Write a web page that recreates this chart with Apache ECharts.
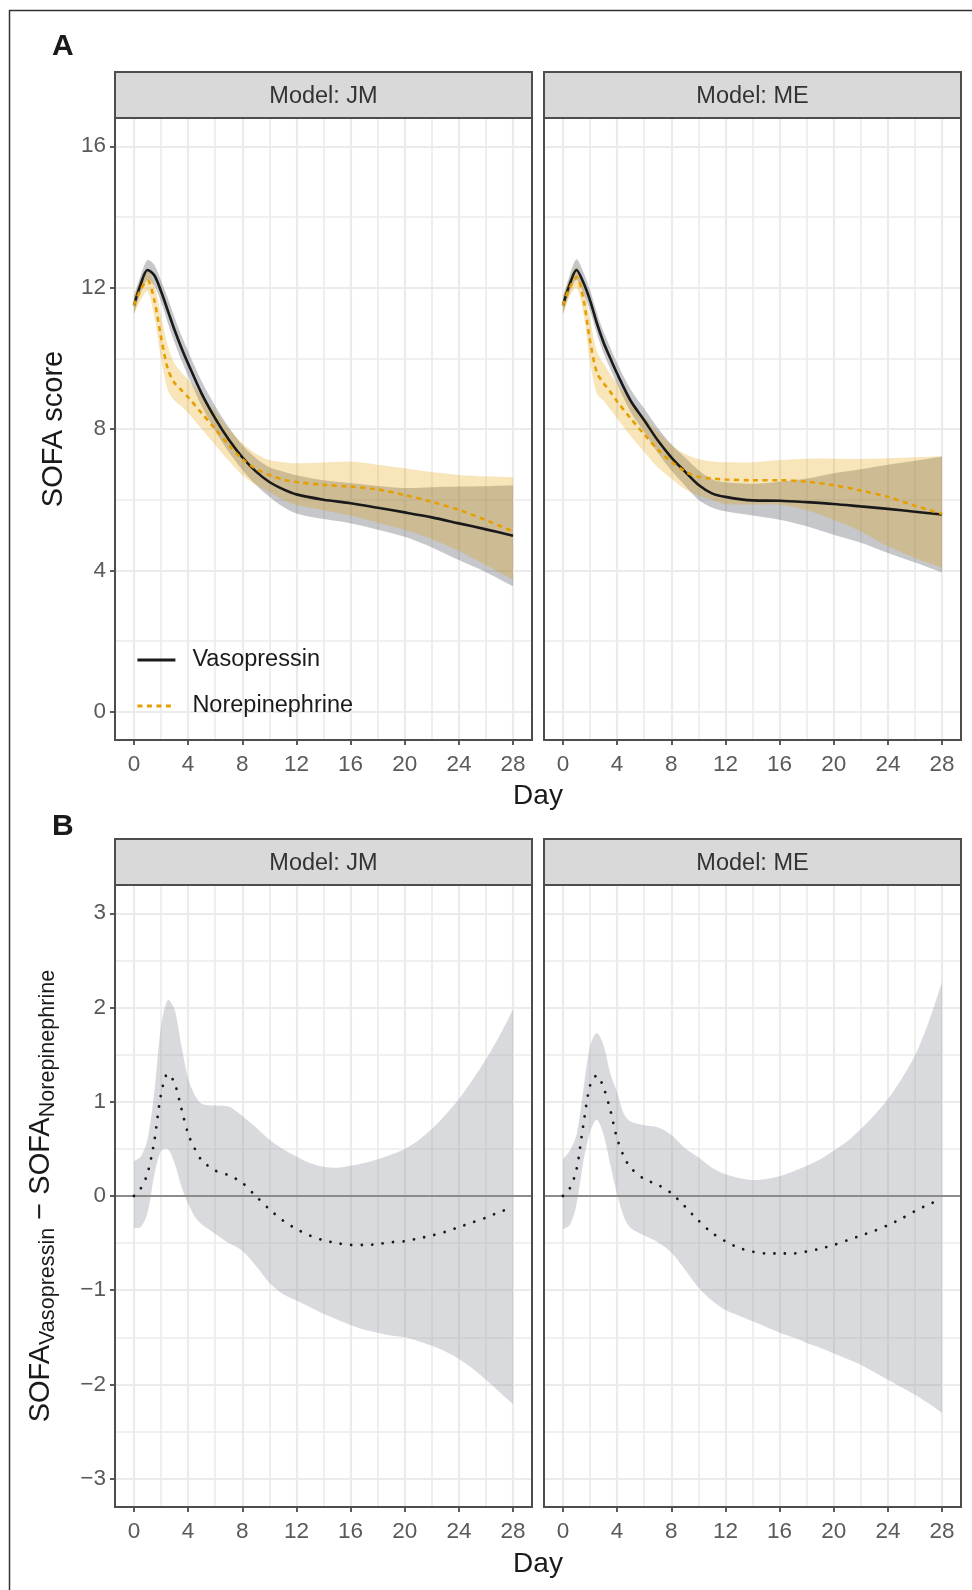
<!DOCTYPE html>
<html><head><meta charset="utf-8">
<script src="https://cdn.jsdelivr.net/npm/echarts@6/dist/echarts.min.js"></script>
<style>html,body{margin:0;padding:0;background:#fff}#c{width:972px;height:1590px}</style>
</head><body><div id="c"></div>
<script>
// ---------- DATA ----------
const xTicks = [0, 4, 8, 12, 16, 20, 24, 28];
const xMinor = [2, 6, 10, 14, 18, 22, 26];
const yTicksA = [0, 4, 8, 12, 16];
const yMinorA = [2, 6, 10, 14];
const yTicksB = [-3, -2, -1, 0, 1, 2, 3];
const yMinorB = [-2.5, -1.5, -0.5, 0.5, 1.5, 2.5];
const panelNames = ['Model: JM', 'Model: ME'];

// Panel A days
const daysA = [0,0.5,1,1.5,2,2.5,3,3.5,4,5,6,7,8,9,10,11,12,14,16,18,20,22,24,26,28];
// Model JM
const jmVasoMean = [11.5,12.1,12.5,12.35,11.9,11.35,10.8,10.3,9.85,9.0,8.3,7.7,7.2,6.8,6.5,6.3,6.15,6.0,5.9,5.77,5.64,5.5,5.33,5.16,4.98];
const jmVasoLo   = [11.25,11.85,12.22,12.05,11.6,11.0,10.45,9.95,9.5,8.65,7.95,7.35,6.85,6.42,6.08,5.8,5.61,5.45,5.33,5.15,4.95,4.65,4.29,3.95,3.55];
const jmVasoHi   = [11.75,12.35,12.78,12.65,12.2,11.7,11.15,10.65,10.2,9.35,8.65,8.05,7.55,7.18,6.92,6.8,6.69,6.55,6.47,6.39,6.33,6.35,6.37,6.38,6.41];
const jmNoreMean = [11.5,11.95,12.2,11.65,10.6,9.7,9.3,9.1,8.9,8.45,8.0,7.55,7.15,6.88,6.7,6.57,6.5,6.42,6.37,6.29,6.13,5.94,5.71,5.42,5.1];
const jmNoreLo   = [11.25,11.65,11.9,11.2,10.0,9.1,8.8,8.65,8.45,8.0,7.55,7.1,6.7,6.42,6.22,6.0,5.85,5.7,5.55,5.35,5.15,4.88,4.55,4.15,3.73];
const jmNoreHi   = [11.75,12.25,12.5,12.1,11.2,10.35,9.85,9.6,9.4,8.95,8.5,8.0,7.6,7.3,7.12,7.06,7.03,7.05,7.08,6.99,6.89,6.78,6.7,6.66,6.63];
// Model ME
const meVasoMean = [11.5,12.1,12.5,12.15,11.64,11.0,10.45,10.0,9.57,8.8,8.25,7.68,7.2,6.8,6.42,6.18,6.08,5.98,5.97,5.93,5.88,5.81,5.74,5.66,5.58];
const meVasoLo   = [11.25,11.85,12.22,11.85,11.35,10.7,10.15,9.7,9.27,8.48,7.92,7.33,6.83,6.4,6.0,5.78,5.67,5.55,5.43,5.25,5.01,4.78,4.49,4.22,3.94];
const meVasoHi   = [11.75,12.35,12.8,12.45,11.93,11.3,10.75,10.3,9.87,9.12,8.58,8.03,7.57,7.2,6.84,6.58,6.49,6.45,6.51,6.6,6.75,6.86,6.99,7.1,7.22];
const meNoreMean = [11.5,12.0,12.3,11.7,10.5,9.6,9.3,9.05,8.78,8.3,7.85,7.42,7.08,6.8,6.65,6.6,6.57,6.55,6.55,6.51,6.41,6.26,6.08,5.83,5.6];
const meNoreLo   = [11.25,11.75,12.0,11.3,9.9,9.0,8.8,8.55,8.3,7.8,7.35,6.92,6.6,6.3,6.12,6.0,5.88,5.86,5.86,5.7,5.43,5.1,4.68,4.35,4.07];
const meNoreHi   = [11.75,12.25,12.6,12.1,11.1,10.2,9.85,9.55,9.3,8.8,8.35,7.92,7.55,7.3,7.15,7.08,7.06,7.06,7.12,7.16,7.16,7.15,7.17,7.2,7.23];

// Panel B days (difference Vasopressin - Norepinephrine)
const daysB = [0,0.5,1,1.5,2,2.5,3,3.5,4,4.5,5,6,7,8,9,10,11,12,13,14,15,16,17,18,19,20,21,22,23,24,25,26,27,28];
const jmDiffMean = [0.0,0.08,0.24,0.58,1.08,1.3,1.2,0.93,0.66,0.5,0.38,0.27,0.22,0.14,0.0,-0.14,-0.26,-0.35,-0.42,-0.47,-0.5,-0.52,-0.52,-0.51,-0.49,-0.48,-0.45,-0.42,-0.38,-0.33,-0.28,-0.23,-0.17,-0.12];
const jmDiffLo   = [-0.34,-0.33,-0.18,0.22,0.48,0.5,0.35,0.1,-0.08,-0.22,-0.3,-0.4,-0.5,-0.58,-0.74,-0.92,-1.04,-1.11,-1.18,-1.25,-1.31,-1.37,-1.42,-1.45,-1.48,-1.5,-1.54,-1.59,-1.65,-1.73,-1.83,-1.95,-2.08,-2.21];
const jmDiffHi   = [0.37,0.42,0.6,1.1,1.8,2.08,1.98,1.6,1.25,1.07,0.98,0.96,0.95,0.85,0.73,0.6,0.5,0.42,0.35,0.31,0.3,0.32,0.35,0.39,0.44,0.5,0.59,0.71,0.86,1.03,1.23,1.45,1.7,1.98];
const meDiffMean = [0.0,0.08,0.28,0.75,1.17,1.28,1.15,0.91,0.61,0.42,0.3,0.18,0.12,0.03,-0.11,-0.26,-0.39,-0.48,-0.55,-0.59,-0.61,-0.61,-0.61,-0.59,-0.56,-0.52,-0.47,-0.42,-0.37,-0.31,-0.24,-0.16,-0.09,-0.03];
const meDiffLo   = [-0.35,-0.31,-0.09,0.36,0.68,0.81,0.65,0.33,0.02,-0.22,-0.34,-0.42,-0.49,-0.6,-0.78,-0.97,-1.11,-1.21,-1.27,-1.33,-1.39,-1.45,-1.5,-1.56,-1.61,-1.67,-1.73,-1.79,-1.87,-1.95,-2.03,-2.11,-2.2,-2.3];
const meDiffHi   = [0.39,0.48,0.65,1.12,1.59,1.73,1.6,1.3,1.1,0.87,0.79,0.75,0.73,0.65,0.51,0.41,0.3,0.23,0.19,0.17,0.18,0.21,0.26,0.32,0.39,0.48,0.58,0.71,0.86,1.03,1.24,1.49,1.84,2.27];

// ---------- LAYOUT / STYLE ----------
const FONT = '"Liberation Sans", Arial, Helvetica, sans-serif';
const PL = [115, 544], PW = 417;
const AT = 118, AH = 622, BT = 885, BH = 622, SH = 46;
const C_VASO = '#1a1a1a', C_NORE = '#E69F00';
const F_VASO = 'rgba(80,85,95,0.33)', F_NORE = 'rgba(230,159,0,0.27)', F_DIFF = 'rgba(155,158,165,0.38)';
const GRID_C = '#ebebeb';
const minusFmt = v => (v < 0 ? '\u2212' + Math.abs(v) : String(v));

const grids = [], xAxes = [], yAxes = [], series = [];
const panels = [
  {top: AT, h: AH, col: 0, yMin: -0.8, yMax: 16.8, yT: yTicksA, yM: yMinorA},
  {top: AT, h: AH, col: 1, yMin: -0.8, yMax: 16.8, yT: yTicksA, yM: yMinorA},
  {top: BT, h: BH, col: 0, yMin: -3.3, yMax: 3.3, yT: yTicksB, yM: yMinorB},
  {top: BT, h: BH, col: 1, yMin: -3.3, yMax: 3.3, yT: yTicksB, yM: yMinorB}
];
const labelStyle = {fontSize: 22.5, color: '#5a5a5a', fontFamily: FONT};
panels.forEach((p, i) => {
  grids.push({left: PL[p.col], top: p.top, width: PW, height: p.h, containLabel: false, outerBoundsMode: 'none', show: false});
  xAxes.push({
    type: 'value', gridIndex: i, min: -1.4, max: 29.4,
    axisLine: {show: false, onZero: false},
    axisTick: {show: true, customValues: xTicks, length: 5, lineStyle: {color: '#333', width: 1.6}},
    axisLabel: Object.assign({show: true, customValues: xTicks, margin: 13}, labelStyle),
    splitLine: {show: false}, minorSplitLine: {show: false}
  });
  const showY = p.col === 0;
  yAxes.push({
    type: 'value', gridIndex: i, min: p.yMin, max: p.yMax,
    axisLine: {show: false, onZero: false},
    axisTick: {show: showY, customValues: p.yT, length: 5, lineStyle: {color: '#333', width: 1.6}},
    axisLabel: Object.assign({show: showY, customValues: p.yT, margin: 9, formatter: minusFmt}, labelStyle),
    splitLine: {show: false}
  });
  // gridlines
  const ml = [];
  xTicks.forEach(v => ml.push({xAxis: v, lineStyle: {width: 2.2}}));
  xMinor.forEach(v => ml.push({xAxis: v, lineStyle: {width: 1.6}}));
  p.yT.forEach(v => ml.push({yAxis: v, lineStyle: {width: 2.2}}));
  p.yM.forEach(v => ml.push({yAxis: v, lineStyle: {width: 1.6}}));
  series.push({
    type: 'line', name: 'grid' + i, xAxisIndex: i, yAxisIndex: i, data: [], z: 1, silent: true,
    markLine: {z: 1, silent: true, symbol: ['none', 'none'], label: {show: false}, animation: false,
      lineStyle: {color: GRID_C, type: 'solid'}, emphasis: {disabled: true}, data: ml}
  });
});

function band(gi, days, lo, hi, fill, z) {
  return {
    type: 'custom', xAxisIndex: gi, yAxisIndex: gi, z: z, silent: true,
    data: [[days[0], lo[0]]],
    renderItem: (params, api) => {
      const n = days.length, pts = [];
      // corner vertices are doubled so the smoothed outline keeps straight end caps
      pts.push(api.coord([days[0], hi[0]]));
      for (let i = 0; i < n; i++) pts.push(api.coord([days[i], hi[i]]));
      pts.push(api.coord([days[n - 1], hi[n - 1]]));
      pts.push(api.coord([days[n - 1], lo[n - 1]]));
      for (let i = n - 1; i >= 0; i--) pts.push(api.coord([days[i], lo[i]]));
      pts.push(api.coord([days[0], lo[0]]));
      return {type: 'polygon', shape: {points: pts, smooth: 0.3}, style: {fill: fill}};
    }
  };
}
function line(gi, name, days, vals, ls, extra) {
  return Object.assign({
    type: 'line', name: name, xAxisIndex: gi, yAxisIndex: gi, z: 5, silent: true,
    data: days.map((d, i) => [d, vals[i]]),
    symbol: 'none', showSymbol: false, smooth: 0.3,
    lineStyle: ls, itemStyle: {color: ls.color}
  }, extra || {});
}
const vasoLS = {color: C_VASO, width: 2.6, type: 'solid'};
const noreLS = {color: C_NORE, width: 2.6, type: [5, 4.5]};

series.push(band(0, daysA, jmVasoLo, jmVasoHi, F_VASO, 2));
series.push(band(0, daysA, jmNoreLo, jmNoreHi, F_NORE, 3));
series.push(line(0, 'Vasopressin', daysA, jmVasoMean, vasoLS));
series.push(line(0, 'Norepinephrine', daysA, jmNoreMean, noreLS, {z: 6}));
series.push(band(1, daysA, meVasoLo, meVasoHi, F_VASO, 2));
series.push(band(1, daysA, meNoreLo, meNoreHi, F_NORE, 3));
series.push(line(1, 'Vasopressin', daysA, meVasoMean, vasoLS));
series.push(line(1, 'Norepinephrine', daysA, meNoreMean, noreLS, {z: 6}));

const diffLS = {color: '#1a1a1a', width: 2.8, type: [0.01, 10.5], cap: 'round'};
const zeroML = {z: 4, silent: true, symbol: ['none', 'none'], label: {show: false}, animation: false,
  lineStyle: {color: '#8c8c8c', width: 2, type: 'solid'}, data: [{yAxis: 0}]};
series.push(band(2, daysB, jmDiffLo, jmDiffHi, F_DIFF, 2));
series.push(line(2, 'Difference', daysB, jmDiffMean, diffLS, {markLine: zeroML}));
series.push(band(3, daysB, meDiffLo, meDiffHi, F_DIFF, 2));
series.push(line(3, 'Difference', daysB, meDiffMean, diffLS, {markLine: zeroML}));

// ---------- GRAPHIC (frames, strips, titles) ----------
const graphic = [];
graphic.push({type: 'line', shape: {x1: 9, y1: 10.5, x2: 972, y2: 10.5}, style: {stroke: '#333', lineWidth: 1.5}, z: 100});
graphic.push({type: 'line', shape: {x1: 9.5, y1: 10, x2: 9.5, y2: 1590}, style: {stroke: '#333', lineWidth: 1.5}, z: 100});
graphic.push({type: 'text', x: 52, y: 47, style: {text: 'A', font: 'bold 30px ' + FONT, fill: '#1a1a1a', align: 'left', verticalAlign: 'middle'}, z: 100});
graphic.push({type: 'text', x: 52, y: 827, style: {text: 'B', font: 'bold 30px ' + FONT, fill: '#1a1a1a', align: 'left', verticalAlign: 'middle'}, z: 100});
panels.forEach((p, i) => {
  const x = PL[p.col];
  graphic.push({type: 'rect', shape: {x: x, y: p.top - SH, width: PW, height: SH},
    style: {fill: '#d9d9d9', stroke: '#4d4d4d', lineWidth: 2}, z: 100});
  graphic.push({type: 'text', x: x + PW / 2, y: p.top - SH / 2 + 2,
    style: {text: panelNames[p.col], font: '23.5px ' + FONT, fill: '#333', align: 'center', verticalAlign: 'middle'}, z: 101});
  graphic.push({type: 'rect', shape: {x: x, y: p.top, width: PW, height: p.h},
    style: {fill: 'none', stroke: '#4d4d4d', lineWidth: 2}, z: 100});
});
graphic.push({type: 'text', x: 538, y: 796, style: {text: 'Day', font: '28px ' + FONT, fill: '#1a1a1a', align: 'center', verticalAlign: 'middle'}, z: 100});
graphic.push({type: 'text', x: 538, y: 1564, style: {text: 'Day', font: '28px ' + FONT, fill: '#1a1a1a', align: 'center', verticalAlign: 'middle'}, z: 100});
graphic.push({type: 'text', x: 54, y: 429, rotation: Math.PI / 2,
  style: {text: 'SOFA score', font: '29px ' + FONT, fill: '#1a1a1a', align: 'center', verticalAlign: 'middle'}, z: 100});
graphic.push({type: 'text', x: 41, y: 1196, rotation: Math.PI / 2,
  style: {text: '{b|SOFA}{s|Vasopressin}{b| \u2212 SOFA}{s|Norepinephrine}',
    rich: {
      b: {fontSize: 29, fontFamily: FONT, fill: '#1a1a1a', lineHeight: 35},
      s: {fontSize: 21.6, fontFamily: FONT, fill: '#1a1a1a', lineHeight: 22, padding: [14, 0, 0, 0]}
    },
    align: 'center', verticalAlign: 'middle'}, z: 100});

const chart = echarts.init(document.getElementById('c'), null, {renderer: 'canvas'});
chart.setOption({
  animation: false,
  backgroundColor: '#fff',
  grid: grids, xAxis: xAxes, yAxis: yAxes, series: series, graphic: graphic,
  legend: {
    data: ['Vasopressin', 'Norepinephrine'], orient: 'vertical', left: 131, top: 642,
    itemWidth: 38, itemHeight: 26, itemGap: 20, selectedMode: false,
    itemStyle: {opacity: 0, borderWidth: 0},
    lineStyle: {width: 2.8},
    textStyle: {fontSize: 23.5, color: '#1a1a1a', fontFamily: FONT, padding: [0, 0, 0, 12], lineHeight: 26}
  }
});
</script>
</body></html>
